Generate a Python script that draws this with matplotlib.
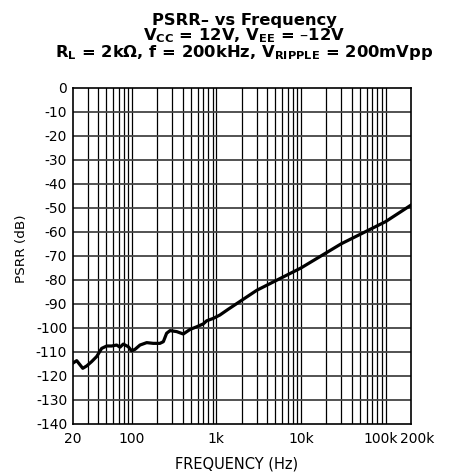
import numpy as np
import matplotlib.pyplot as plt
import matplotlib.transforms as mtransforms
from matplotlib.ticker import FixedLocator, FixedFormatter, LogLocator, NullFormatter

plt.rcParams['font.family'] = ['DejaVu Sans']
plt.rcParams['mathtext.default'] = 'regular'

# PSRR- measured curve
freq = [20, 22.3, 26.3, 29.3, 33.5, 38.4, 44, 50.5, 57.8, 66.2, 72.5, 79.3, 90.8,
        99.6, 109, 125, 150, 179, 215, 236, 258, 283, 339, 406, 488, 585, 700,
        768, 918, 1100, 1380, 3000, 10000, 30000, 100000, 200000]
psrr = [-114.7, -113.6, -116.8, -115.8, -114.0, -111.9, -108.5, -107.5, -107.5,
        -107.1, -108.0, -106.7, -107.8, -109.5, -108.9, -107.1, -106.1, -106.4,
        -106.4, -105.7, -102.2, -101.1, -101.5, -102.5, -100.6, -99.5, -98.3,
        -97.0, -96.0, -94.6, -92.2, -84.3, -75.0, -64.9, -55.7, -48.8]

xticks = [20, 100, 1000, 10000, 100000, 200000]
xticklabels = ['20', '100', '1k', '10k', '100k', '200k']
yticks = list(range(-140, 1, 10))

fig = plt.figure(figsize=(4.61, 4.72), dpi=100)
ax = fig.add_axes([0.1577, 0.1017, 0.7338, 0.7119])

ax.set_xscale('log')
ax.set_xlim(20, 200000)
ax.set_ylim(-140, 0)

# vertical grid at every 1-2-...-9 decade step
vlines = LogLocator(base=10, subs=np.arange(1, 10)).tick_values(20, 200000)
for v in vlines:
    if 20 < v < 200000:
        ax.axvline(v, color='black', lw=0.9, zorder=1)
for h in yticks[1:-1]:
    ax.axhline(h, color='#444444', lw=1.3, zorder=1)

ax.plot(freq, psrr, color='black', lw=2.3, zorder=3)

ax.xaxis.set_major_locator(FixedLocator(xticks))
ax.xaxis.set_major_formatter(FixedFormatter(xticklabels))
ax.xaxis.set_minor_formatter(NullFormatter())
ax.set_yticks(yticks)
ax.set_yticklabels([str(t) for t in yticks])
ax.tick_params(which='both', length=0, labelsize=10)
ax.tick_params(axis='x', pad=6)
ax.tick_params(axis='y', pad=4)

# nudge the two crowded labels at the right end apart
labels = ax.get_xticklabels()
for lab, dx in zip(labels[-2:], [-5, 6]):
    lab.set_transform(lab.get_transform() +
                      mtransforms.ScaledTranslation(dx / 100, 0, fig.dpi_scale_trans))

for s in ax.spines.values():
    s.set_linewidth(1.2)

ax.set_xlabel('FREQUENCY (Hz)', fontsize=10.5)
ax.xaxis.set_label_coords(0.484, -0.097)
ax.set_ylabel('PSRR (dB)', fontsize=9.7)
ax.yaxis.set_label_coords(-0.132, 0.521)

title_lines = ['PSRR\u2013 vs Frequency',
               'V$_{CC}$ = 12V, V$_{EE}$ = \u201312V',
               'R$_{L}$ = 2k\u03a9, f = 200kHz, V$_{RIPPLE}$ = 200mVpp']
for line, y in zip(title_lines, [24.5, 40, 57]):
    fig.text(0.53, 1 - y / 472, line, ha='center', va='baseline',
             fontsize=11.8, fontweight='bold')

fig.savefig('out.png', dpi=100)
